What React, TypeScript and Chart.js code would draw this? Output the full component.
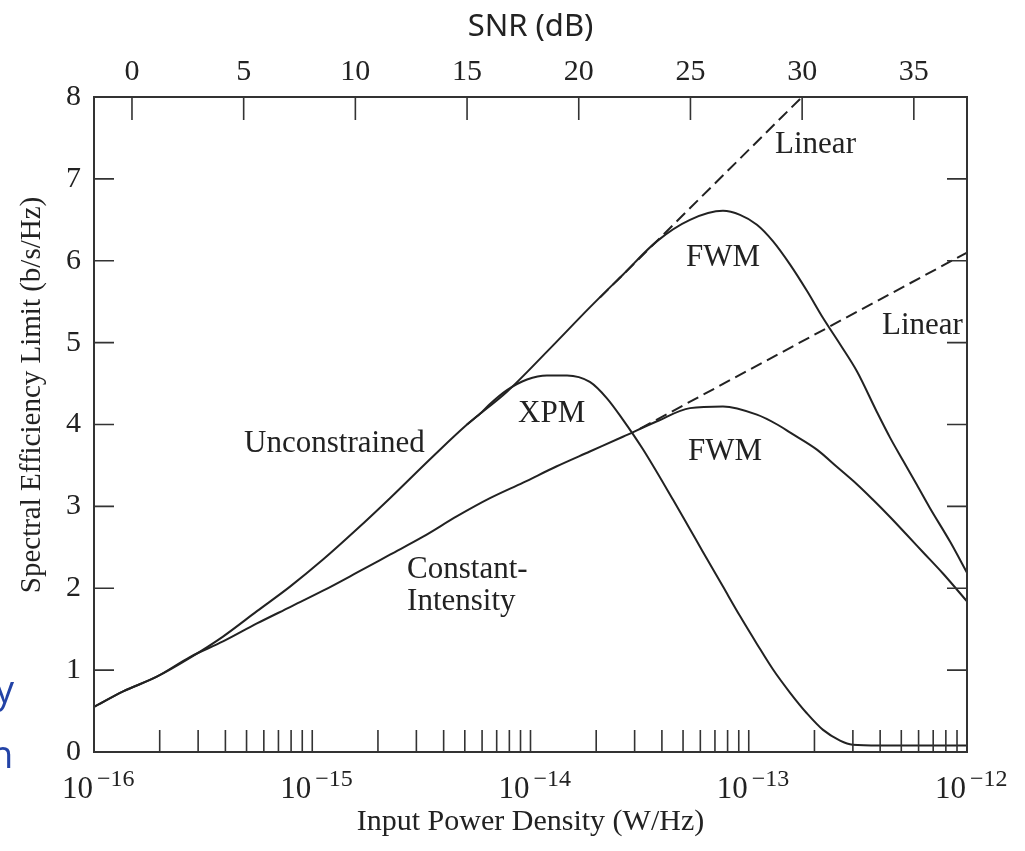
import React, { useEffect, useRef } from "react";
import { Chart, registerables } from "chart.js";

Chart.register(...registerables);

// ---------- data ----------
// x: input power density (W/Hz), y: spectral efficiency limit (b/s/Hz)
const unconstrainedPower = [
  1e-16, 1.36e-16, 1.94e-16, 2.75e-16, 3.9e-16, 5.58e-16, 7.91e-16, 1.12e-15, 1.6e-15, 2.27e-15,
  3.57e-15, 5.12e-15, 7.8e-15, 1.19e-14, 1.87e-14, 2.65e-14, 3.8e-14, 5.38e-14, 7.62e-14, 9.12e-14,
  1.09e-13, 1.29e-13, 1.55e-13, 1.85e-13, 2.19e-13, 2.62e-13, 3.13e-13, 3.87e-13, 4.44e-13, 5.09e-13,
  5.9e-13, 6.76e-13, 8.36e-13, 1e-12,
];
const unconstrainedSE = [
  0.55, 0.74, 0.92, 1.15, 1.41, 1.72, 2.02, 2.35, 2.72, 3.1,
  3.61, 4.0, 4.4, 4.89, 5.43, 5.83, 6.24, 6.5, 6.61, 6.56,
  6.44, 6.24, 5.95, 5.63, 5.3, 4.98, 4.65, 4.15, 3.84, 3.56,
  3.26, 2.98, 2.57, 2.19,
];

const constantPower = [
  1e-16, 1.36e-16, 1.94e-16, 2.75e-16, 3.9e-16, 5.58e-16, 7.91e-16, 1.12e-15, 1.6e-15, 2.27e-15,
  3.22e-15, 4.61e-15, 6.52e-15, 9.25e-15, 1.32e-14, 1.87e-14, 2.65e-14, 3.8e-14, 5.38e-14, 7.62e-14,
  1.09e-13, 1.35e-13, 1.55e-13, 2.06e-13, 2.54e-13, 3.13e-13, 3.71e-13, 4.44e-13, 5.31e-13, 6.29e-13,
  7.76e-13, 1e-12,
];
const constantSE = [
  0.55, 0.74, 0.92, 1.16, 1.35, 1.57, 1.77, 1.97, 2.19, 2.41,
  2.63, 2.88, 3.1, 3.29, 3.49, 3.67, 3.85, 4.04, 4.2, 4.22,
  4.12, 4.0, 3.9, 3.69, 3.48, 3.27, 3.08, 2.87, 2.65, 2.44,
  2.18, 1.84,
];

const xpmPower = [
  5.12e-15, 5.87e-15, 6.52e-15, 7.8e-15, 9.64e-15, 1.19e-14, 1.47e-14, 1.87e-14, 2.24e-14, 2.65e-14,
  3.27e-14, 4.5e-14, 5.38e-14, 6.15e-14, 7.62e-14, 9.12e-14, 1.09e-13, 1.29e-13, 1.55e-13, 1.85e-13,
  2.19e-13, 2.62e-13, 2.99e-13, 3.98e-13, 1e-12,
];
const xpmSE = [
  4.0, 4.13, 4.25, 4.42, 4.55, 4.6, 4.6, 4.52, 4.32, 4.06,
  3.7, 3.08, 2.72, 2.45, 2.02, 1.66, 1.32, 1.01, 0.72, 0.47,
  0.27, 0.14, 0.09, 0.08, 0.08,
];

const upperLinearPower = [2.08e-14, 1.754e-13];
const upperLinearSE = [5.55, 8.0];
const lowerLinearPower = [3.18e-14, 1e-12];
const lowerLinearSE = [3.95, 6.1];

// ---------- axes ----------
const yTickValues = [0, 1, 2, 3, 4, 5, 6, 7, 8];
const snrTickValues = [0, 5, 10, 15, 20, 25, 30, 35];
const snrRange = [-1.7, 37.38];
const decadeExponents = [-16, -15, -14, -13, -12];
const minorMultipliers = [2, 3, 4, 5, 6, 7, 8, 9, 10];

// curve annotations: [text, power, SE] (left/baseline anchor)
const curveLabels: [string, number, number][] = [
  ["Linear", 1.32e-13, 7.32],
  ["FWM", 5.16e-14, 5.93],
  ["Linear", 4.08e-13, 5.1],
  ["XPM", 8.77e-15, 4.03],
  ["FWM", 5.27e-14, 3.57],
  ["Unconstrained", 4.87e-16, 3.67],
  ["Constant-", 2.72e-15, 2.13],
  ["Intensity", 2.72e-15, 1.74],
];

const INK = "#222";
const SERIF = '"Liberation Serif", "Times New Roman", serif';

const pts = (xs: number[], ys: number[]) => xs.map((x, i) => ({ x, y: ys[i] }));

const decorPlugin = {
  id: "decor",
  afterDatasetsDraw(chart: any) {
    const { ctx, chartArea: a, scales } = chart;
    const xs = scales.x;
    const ys = scales.y;
    const ss = scales.snr;
    ctx.save();
    ctx.strokeStyle = "#333";
    ctx.lineWidth = 2;
    ctx.strokeRect(a.left, a.top, a.right - a.left, a.bottom - a.top);

    // inward ticks
    ctx.lineWidth = 1.6;
    ctx.beginPath();
    for (const v of yTickValues) {
      if (v <= 0 || v >= 8) continue;
      const y = ys.getPixelForValue(v);
      ctx.moveTo(a.left, y);
      ctx.lineTo(a.left + 20, y);
      ctx.moveTo(a.right, y);
      ctx.lineTo(a.right - 20, y);
    }
    for (const s of snrTickValues) {
      const x = ss.getPixelForValue(s);
      ctx.moveTo(x, a.top);
      ctx.lineTo(x, a.top + 23);
    }
    for (const d of decadeExponents.slice(0, -1)) {
      for (const m of minorMultipliers) {
        const x = xs.getPixelForValue(m * Math.pow(10, d));
        if (x >= a.right - 1) continue;
        ctx.moveTo(x, a.bottom);
        ctx.lineTo(x, a.bottom - 22);
      }
    }
    ctx.stroke();

    ctx.fillStyle = INK;
    // y tick labels
    ctx.font = `30px ${SERIF}`;
    ctx.textAlign = "right";
    ctx.textBaseline = "middle";
    for (const v of yTickValues) {
      ctx.fillText(String(v), a.left - 13, ys.getPixelForValue(v));
    }
    // SNR tick labels
    ctx.textAlign = "center";
    for (const s of snrTickValues) {
      ctx.fillText(String(s), ss.getPixelForValue(s), 72);
    }
    // power decade labels
    ctx.textBaseline = "alphabetic";
    for (const d of decadeExponents) {
      const x = xs.getPixelForValue(Math.pow(10, d));
      ctx.font = `31px ${SERIF}`;
      ctx.textAlign = "right";
      ctx.fillText("10", x - 1, 798);
      ctx.font = `24px ${SERIF}`;
      ctx.textAlign = "left";
      ctx.fillText("\u2212" + String(-d), x + 3, 786);
    }
    // axis titles
    ctx.font = `30px ${SERIF}`;
    ctx.textAlign = "center";
    ctx.textBaseline = "middle";
    ctx.fillText("Input Power Density (W/Hz)", (a.left + a.right) / 2, 822);
    ctx.save();
    ctx.translate(32, 395);
    ctx.rotate(-Math.PI / 2);
    ctx.font = `29px ${SERIF}`;
    ctx.fillText("Spectral Efficiency Limit (b/s/Hz)", 0, 0);
    ctx.restore();
    ctx.font = `31px "Noto Sans", sans-serif`;
    ctx.fillText("SNR (dB)", (a.left + a.right) / 2, 27);

    // curve labels
    ctx.font = `31px ${SERIF}`;
    ctx.textAlign = "left";
    ctx.textBaseline = "alphabetic";
    for (const [t, p, v] of curveLabels) {
      ctx.fillText(t, xs.getPixelForValue(p), ys.getPixelForValue(v));
    }

    // cut-off blue letters from the page behind
    ctx.fillStyle = "#2343a6";
    ctx.font = `38px "Open Sans", sans-serif`;
    ctx.fillText("y", -5, 703);
    ctx.fillText("n", -10, 768);
    ctx.restore();
  },
};

export default function App() {
  const ref = useRef<HTMLCanvasElement | null>(null);
  useEffect(() => {
    if (!ref.current) return;
    const solid = { borderColor: INK, borderWidth: 2, pointRadius: 0, cubicInterpolationMode: "monotone" as const, fill: false };
    const dashed = { borderColor: INK, borderWidth: 2, pointRadius: 0, borderDash: [12, 6], fill: false };
    const chart = new Chart(ref.current, {
      type: "line",
      data: {
        datasets: [
          { label: "Linear (upper)", data: pts(upperLinearPower, upperLinearSE), ...dashed },
          { label: "Linear (lower)", data: pts(lowerLinearPower, lowerLinearSE), ...dashed },
          { label: "Unconstrained / FWM", data: pts(unconstrainedPower, unconstrainedSE), ...solid },
          { label: "Constant-Intensity / FWM", data: pts(constantPower, constantSE), ...solid },
          { label: "XPM", data: pts(xpmPower, xpmSE), ...solid },
        ],
      },
      options: {
        responsive: false,
        animation: false,
        devicePixelRatio: 1,
        layout: { padding: { left: 94, right: 58, top: 97, bottom: 99 } },
        plugins: { legend: { display: false }, tooltip: { enabled: false }, title: { display: false } },
        scales: {
          x: { type: "logarithmic", min: 1e-16, max: 1e-12, display: false },
          y: { type: "linear", min: 0, max: 8, display: false },
          snr: { type: "linear", axis: "x", position: "top", min: snrRange[0], max: snrRange[1], display: false },
        },
      },
      plugins: [decorPlugin],
    });
    return () => chart.destroy();
  }, []);
  return (
    <div style={{ position: "absolute", left: 0, top: 0, width: 1025, height: 851, background: "#fff", overflow: "hidden" }}>
      <canvas ref={ref} width={1025} height={851} style={{ display: "block" }} />
    </div>
  );
}
